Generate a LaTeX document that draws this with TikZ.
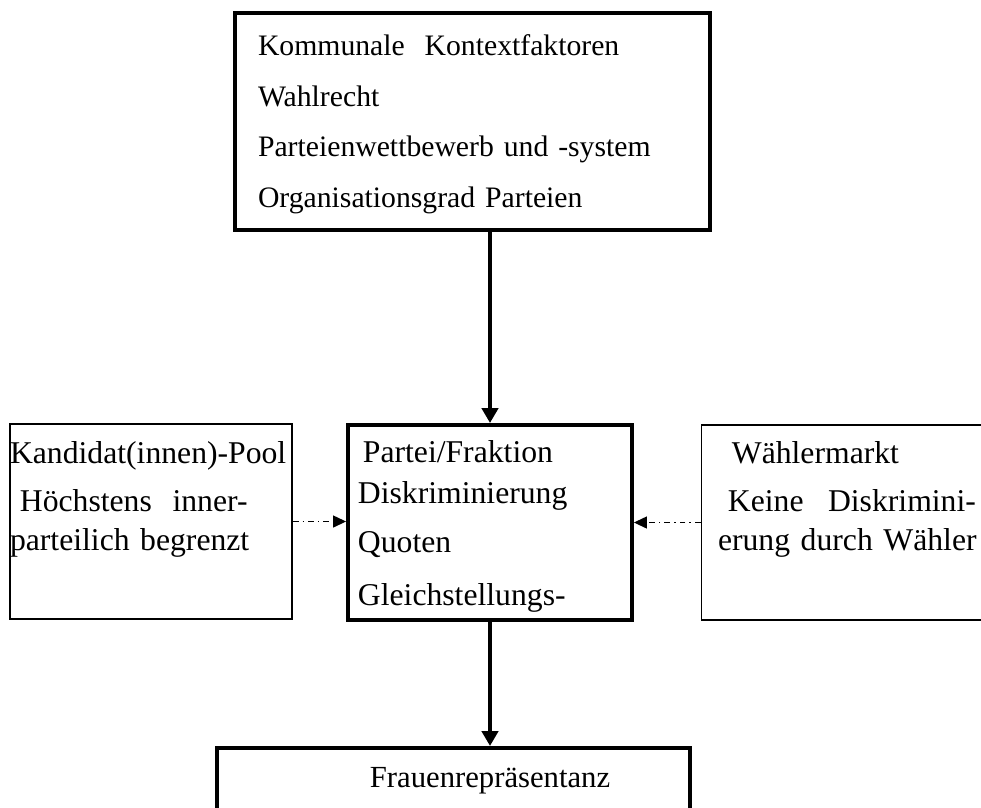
\documentclass[tikz,border=0pt]{standalone}
\usepackage{fontspec}
\setmainfont{Liberation Serif}
\usetikzlibrary{arrows.meta}

\begin{document}
\begin{tikzpicture}[
    x=0.404pt, y=-0.404pt,
    every node/.style={inner sep=0pt},
    rahmen/.style={rectangle, draw=black, line width=1.6pt},
    seite/.style={rectangle, draw=black, line width=0.6pt,
        minimum width=113.9pt, minimum height=78.8pt},
    zeilen/.style={align=left, anchor=base west, outer sep=0pt,
        font=\fontsize{12.8}{15.8}\selectfont},
    pfeil/.style={line width=1.6pt, -{Triangle[width=6.5pt,length=6pt]}},
    strich/.style={line width=0.5pt,
        dash pattern=on 2.4pt off 1.6pt on 0.6pt off 1.6pt,
        -{Triangle[width=4.8pt,length=5.2pt]}}
    ]
\useasboundingbox (0,0) rectangle (981,807);
\clip (0,0) rectangle (981,807);

% top box
\node[rahmen, minimum width=191.9pt, minimum height=87.7pt,
    text width=173.3pt, inner xsep=9.3pt, align=left, text height=10.7pt,
    font=\fontsize{12}{20.4}\selectfont] (kontext) at (472.5,121.5) {
    Kommunale\ \ Kontextfaktoren\\
    Wahlrecht\\
    Parteienwettbewerb und -system\\
    Organisationsgrad Parteien};

% middle row
\node[rahmen, minimum width=114.7pt, minimum height=78.8pt,
    text width=106.7pt, inner xsep=4pt, align=left, text height=12pt,
    font=\fontsize{12.8}{16.6}\selectfont] (partei) at (490,522.5) {
    \hspace*{2pt}Partei/Fraktion\\
    Diskriminierung\\[3.2pt]
    Quoten\\[4.8pt]
    Gleichstellungs-};

\node[seite] (pool) at (151,521.5) {};
\node[zeilen, text width=114pt] (pooltext) at (10,463) {
    Kandidat(innen)-Pool\\[3.6pt]
    \hspace*{4pt}\makebox[92pt][s]{Höchstens\hfill inner-}\\
    parteilich begrenzt};

\node[seite] (markt) at (842.5,522.5) {};
\node[zeilen, text width=106pt] (markttext) at (718,463) {
    \hspace*{5.6pt}Wählermarkt\\[3.6pt]
    \hspace*{4pt}\makebox[100.2pt][s]{Keine\hfill Diskrimini-}\\
    erung durch Wähler};

% bottom box
\node[rahmen, minimum width=191.1pt, minimum height=26.7pt,
    font=\fontsize{12.4}{15}\selectfont] (frauen) at (453.5,781)
    {\hspace*{29.5pt}Frauenrepräsentanz};

% connectors
\draw[pfeil] (kontext.south -| partei.north) -- (partei.north);
\draw[pfeil] (partei.south) -- (frauen.north -| partei.south);
\draw[strich] (pool.east) -- (pool.east -| partei.west);
\draw[strich] (markt.west) -- (markt.west -| partei.east);
\end{tikzpicture}
\end{document}
